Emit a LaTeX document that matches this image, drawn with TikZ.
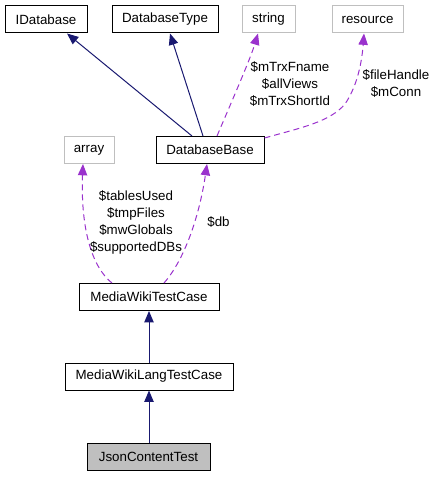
\documentclass[tikz,border=0pt]{standalone}
\usepackage{fontspec}
\setmainfont{Liberation Sans}
\usetikzlibrary{arrows.meta,calc}
\definecolor{navy}{RGB}{25,25,112}
\definecolor{orchid}{RGB}{154,50,205}
\definecolor{boxgray}{RGB}{191,191,191}
\begin{document}
\begin{tikzpicture}[x=0.75pt,y=-0.75pt,
  every node/.style={font=\fontsize{10}{12.75}\selectfont},
  cls/.style={draw=black, line width=0.75pt, minimum height=20.25pt, inner sep=0pt, fill=white},
  ext/.style={draw=boxgray, line width=0.75pt, minimum height=20.25pt, inner sep=0pt, fill=white},
  inherit/.style={draw=navy, line width=0.75pt, -{Triangle[length=8.5pt,width=7pt]}},
  usage/.style={draw=orchid, line width=0.75pt, dash pattern=on 4.5pt off 3pt, -{Triangle[length=8.5pt,width=7pt]}},
  lbl/.style={align=center, inner sep=0pt}]
\useasboundingbox (0,0) rectangle (436,477);
% nodes
\node[cls, minimum width=61.5pt] (idb) at (46,19.5) {IDatabase};
\node[cls, minimum width=79.5pt] (dbt) at (165,19.5) {DatabaseType};
\node[ext, minimum width=39.75pt] (str) at (268.5,19.5) {string};
\node[ext, minimum width=53.25pt] (res) at (367.5,19.5) {resource};
\node[ext, minimum width=37.5pt] (arr) at (89,150) {array};
\node[cls, minimum width=81pt] (dbb) at (210,150) {DatabaseBase};
\node[cls, minimum width=105pt] (mwtc) at (149,297) {MediaWikiTestCase};
\node[cls, minimum width=126pt] (mwltc) at (149,376.5) {MediaWikiLangTestCase};
\node[cls, minimum width=92.25pt, fill=boxgray] (jct) at (148.5,457) {JsonContentTest};
% inheritance
\draw[inherit] ($(dbb.north)+(-18,0)$) -- ($(idb.south)+(21,0)$);
\draw[inherit] ($(dbb.north)+(-7,0)$) -- ($(dbt.south)+(5,0)$);
\draw[inherit] (mwltc.north) -- (mwtc.south);
\draw[inherit] (jct.north -| mwltc.south) -- (mwltc.south);
% usage
\draw[usage] ($(dbb.north)+(7,0)$) .. controls (228,110) and (250,60) .. ($(str.south)+(-10.5,0)$);
\draw[usage] ($(dbb.north east)+(0,2)$) .. controls (300,128) and (330,122) .. (345,104)
  .. controls (358,85) and (362,60) .. ($(res.south)+(-3.5,0)$);
\draw[usage] ($(mwtc.north)+(-37,0)$) .. controls (86,262) and (81,212) .. ($(arr.south)+(-6,0)$);
\draw[usage] ($(mwtc.north)+(15,0)$) .. controls (186,258) and (200,212) .. ($(dbb.south)+(-3,0)$);
% labels
\node[lbl] (lstr) at (290,84) {\$mTrxFname\\\$allViews\\\$mTrxShortId};
\node[lbl] (lres) at (396,84) {\$fileHandle\\\$mConn};
\node[lbl] (larr) at (136,222) {\$tablesUsed\\\$tmpFiles\\\$mwGlobals\\\$supportedDBs};
\node[lbl] (ldb) at (218.5,222) {\$db};
\end{tikzpicture}
\end{document}
